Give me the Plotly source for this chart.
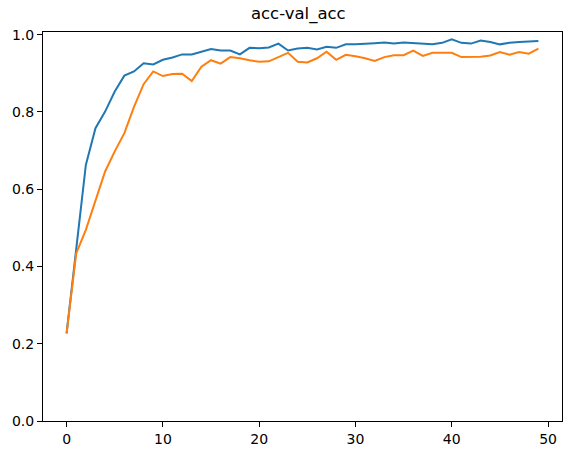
import plotly.graph_objects as go

# Training history: accuracy per epoch
epochs = list(range(50))

acc = [0.227, 0.438, 0.663, 0.758, 0.801, 0.853, 0.894, 0.905, 0.926, 0.923,
       0.935, 0.941, 0.949, 0.949, 0.956, 0.963, 0.959, 0.959, 0.949, 0.966,
       0.965, 0.967, 0.977, 0.959, 0.964, 0.966, 0.962, 0.969, 0.966, 0.975,
       0.975, 0.976, 0.978, 0.980, 0.977, 0.980, 0.978, 0.977, 0.975, 0.979,
       0.988, 0.979, 0.977, 0.985, 0.981, 0.975, 0.979, 0.981, 0.983, 0.984]

val_acc = [0.227, 0.434, 0.495, 0.568, 0.646, 0.698, 0.745, 0.813, 0.872, 0.905,
           0.893, 0.898, 0.899, 0.880, 0.917, 0.934, 0.925, 0.942, 0.939, 0.934,
           0.930, 0.931, 0.942, 0.953, 0.930, 0.928, 0.939, 0.956, 0.935, 0.948,
           0.944, 0.939, 0.932, 0.942, 0.947, 0.947, 0.959, 0.945, 0.953, 0.953,
           0.953, 0.942, 0.943, 0.943, 0.946, 0.955, 0.948, 0.955, 0.951, 0.964]

x_ticks = [0, 10, 20, 30, 40, 50]
y_ticks = [0.0, 0.2, 0.4, 0.6, 0.8, 1.0]

FONT = "DejaVu Sans"

fig = go.Figure()
fig.add_trace(go.Scatter(x=epochs, y=acc, mode="lines",
                         line=dict(color="#1f77b4", width=2), name="acc"))
fig.add_trace(go.Scatter(x=epochs, y=val_acc, mode="lines",
                         line=dict(color="#ff7f0e", width=2), name="val_acc"))

axis_common = dict(
    showgrid=False, zeroline=False, showline=True, mirror=True,
    linecolor="#000000", linewidth=1,
    ticks="outside", ticklen=5, tickwidth=1, tickcolor="#000000",
    tickfont=dict(family=FONT, size=14, color="#000000"),
)

fig.update_layout(
    width=565, height=452,
    margin=dict(l=43, r=3, t=32, b=31),
    paper_bgcolor="white", plot_bgcolor="white",
    showlegend=False,
    title=dict(text="acc-val_acc", font=dict(family=FONT, size=16.5, color="#000000"),
               x=0.528, xref="container", xanchor="center",
               y=1 - 13 / 452, yref="container", yanchor="middle"),
    xaxis=dict(range=[-2.45, 51.45], tickvals=x_ticks, **axis_common),
    yaxis=dict(range=[0, 1.007], tickvals=y_ticks, tickformat=".1f", **axis_common),
)

fig.write_html("out.html")
